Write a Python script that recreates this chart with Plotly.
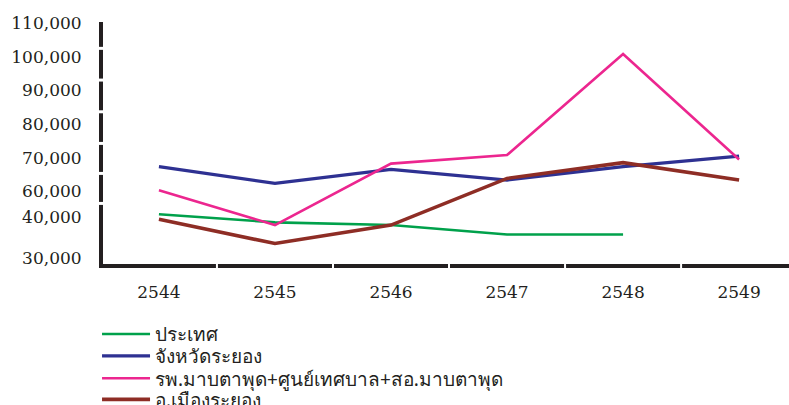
import plotly.graph_objects as go

years = ["2544", "2545", "2546", "2547", "2548", "2549"]
series_names = [
    "ประเทศ",
    "จังหวัดระยอง",
    "รพ.มาบตาพุด+ศูนย์เทศบาล+สอ.มาบตาพุด",
    "อ.เมืองระยอง",
]
country = [53100, 50700, 49900, 47100, 47100, None]
province = [67300, 62300, 66500, 63300, 67300, 70450]
maptaphut = [60300, 49900, 68200, 70750, 100850, 69450]
mueang = [51600, 44400, 49900, 63800, 68500, 63300]

y_tick_vals = [110000, 100000, 90000, 80000, 70000, 60000, 52300, 40000]
y_tick_text = ["110,000", "100,000", "90,000", "80,000", "70,000", "60,000", "40,000", "30,000"]

colors = ["#00A14B", "#2E3192", "#EC268F", "#8E2D25"]
widths = [2.6, 3.2, 2.6, 3.6]
values = [country, province, maptaphut, mueang]

Y_RANGE = [38300, 110400]
X_RANGE = [-0.482, 5.43]

# decorative white breaks in the axis lines (style only)
y_gap_vals = [102550, 93100, 83650, 74230, 65290, 56350]
x_gap_pos = [0.5, 1.5, 2.5, 3.5, 4.5]
legend_y = [-0.29, -0.38, -0.473, -0.56]

fig = go.Figure()
for i, (name, vals, c, w) in enumerate(zip(series_names, values, colors, widths)):
    fig.add_trace(go.Scatter(x=years, y=vals, mode="lines", name=name,
                             line=dict(color=c, width=w), connectgaps=False,
                             legend="legend" if i == 0 else f"legend{i+1}"))

leg_common = dict(x=-0.0087, xanchor="left", yanchor="middle", itemwidth=48,
                  font=dict(family="Noto Sans, sans-serif", size=19, color="#231f20"),
                  bgcolor="rgba(0,0,0,0)", borderwidth=0)

fig.update_layout(
    width=789, height=405,
    margin=dict(l=103, r=0, t=22, b=141, autoexpand=False),
    paper_bgcolor="white", plot_bgcolor="white",
    showlegend=True,
    legend=dict(y=legend_y[0], **leg_common),
    legend2=dict(y=legend_y[1], **leg_common),
    legend3=dict(y=legend_y[2], **leg_common),
    legend4=dict(y=legend_y[3], **leg_common),
    font=dict(family="DejaVu Serif", size=17, color="#231f20"),
)
fig.update_xaxes(type="category", range=X_RANGE, showgrid=False, zeroline=False,
                 showline=True, linecolor="#231f20", linewidth=4, ticks="",
                 ticklabelstandoff=10)
fig.update_yaxes(range=Y_RANGE, showgrid=False, zeroline=False,
                 showline=True, linecolor="#231f20", linewidth=4,
                 tickmode="array", tickvals=y_tick_vals, ticktext=y_tick_text, ticks="",
                 ticklabelstandoff=14)

for v in y_gap_vals:
    py = (v - Y_RANGE[0]) / (Y_RANGE[1] - Y_RANGE[0])
    fig.add_shape(type="line", xref="paper", yref="paper", x0=-0.012, x1=0.0, y0=py, y1=py,
                  line=dict(color="white", width=3), layer="above")
for p in x_gap_pos:
    px = (p - X_RANGE[0]) / (X_RANGE[1] - X_RANGE[0])
    fig.add_shape(type="line", xref="paper", yref="paper", x0=px, x1=px, y0=-0.025, y1=0.0,
                  line=dict(color="white", width=2), layer="above")

fig.write_html("out.html")
